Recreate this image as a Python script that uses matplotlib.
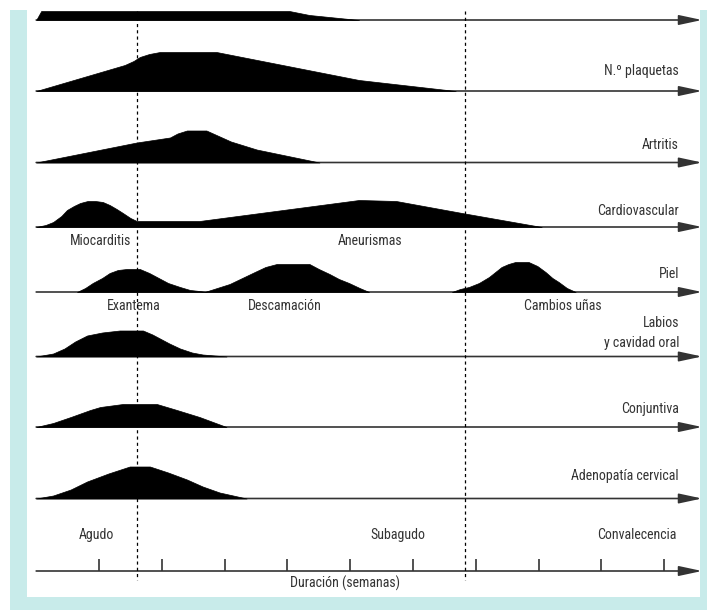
import matplotlib
matplotlib.use("Agg")
import matplotlib.pyplot as plt
from matplotlib.patches import Rectangle
from matplotlib import font_manager

# --- datos (x en semanas, altura en unidades del dibujo) ---
top_w = [0.0, 0.08, 4.03, 4.35, 5.14]
top_h = [0, 9, 9, 5, 0]

plaq_w = [0.0, 1.41, 1.55, 1.65, 1.80, 1.97, 2.87, 5.14, 6.68]
plaq_h = [0, 26, 30, 34, 37, 39, 39, 11, 0]

artr_w = [0.0, 1.60, 2.13, 2.25, 2.40, 2.71, 3.10, 3.51, 4.51]
artr_h = [0, 20, 25, 29, 32, 32, 21, 13, 0]

cardio_w = [0.0, 0.15, 0.27, 0.40, 0.49, 0.60, 0.70, 0.82, 0.94, 1.06, 1.17,
            1.28, 1.38, 1.50, 1.60, 2.60, 5.14, 5.73, 6.78, 8.05]
cardio_h = [0, 2, 5, 11, 17, 21, 24, 26, 26, 25, 22, 18, 14, 9, 6, 6, 27, 26, 14, 0]

exan_w = [0.65, 0.78, 0.90, 1.05, 1.17, 1.30, 1.44, 1.65, 1.80, 1.92, 2.10, 2.29, 2.45, 2.60, 2.71]
exan_h = [0, 4, 9, 14, 19, 22, 23, 23, 19, 15, 9, 5, 2, 1, 0]

desc_w = [2.68, 2.88, 3.08, 3.28, 3.48, 3.65, 3.83, 4.35, 4.50, 4.67, 4.82, 4.98, 5.15, 5.30]
desc_h = [0, 4, 8, 14, 20, 25, 28, 28, 23, 18, 13, 9, 4, 0]

unas_w = [6.62, 6.75, 6.89, 7.05, 7.21, 7.31, 7.41, 7.52, 7.63, 7.84, 7.98, 8.11, 8.22, 8.32, 8.45, 8.59]
unas_h = [0, 3, 5, 9, 15, 20, 25, 28, 30, 30, 26, 20, 14, 10, 4, 0]

lab_w = [0.0, 0.27, 0.45, 0.62, 0.81, 1.05, 1.33, 1.70, 1.85, 1.97, 2.12, 2.29, 2.48, 2.65, 3.03]
lab_h = [0, 3, 8, 15, 21, 24, 26, 26, 22, 18, 13, 8, 4, 2, 0]

conj_w = [0.0, 0.27, 0.55, 0.86, 1.02, 1.38, 1.92, 2.24, 2.60, 3.03]
conj_h = [0, 4, 10, 17, 20, 23, 23, 17, 10, 0]

aden_w = [0.0, 0.27, 0.55, 0.81, 1.15, 1.49, 1.81, 2.10, 2.40, 2.65, 2.92, 3.35]
aden_h = [0, 3, 9, 17, 25, 32, 32, 26, 19, 12, 6, 0]

row_labels = ["", "N.º plaquetas", "Artritis", "Cardiovascular", "Piel",
              "Labios\ny cavidad oral", "Conjuntiva", "Adenopatía cervical"]
semanas = [1, 2, 3, 4, 5, 6, 7, 8, 9, 10]
fases = ["Agudo", "Subagudo", "Convalecencia"]
limites_fase = [1.6, 6.83]


def fuente_estrecha():
    fl = font_manager.fontManager.ttflist
    pref = ['Liberation Sans Narrow', 'Roboto Condensed', 'Open Sans Condensed',
            'Noto Sans Condensed', 'DejaVu Sans Condensed']
    normal = [f for f in fl if f.style == 'normal' and f.weight in (400, 'normal', 'regular', 'book')]
    for p in pref:
        for f in normal:
            if f.name == p:
                return font_manager.FontProperties(fname=f.fname), 10
    for f in normal:
        if 'condensed' in str(f.stretch) or 'Condensed' in f.fname or 'Narrow' in f.fname:
            return font_manager.FontProperties(fname=f.fname), 10
    return font_manager.FontProperties(family='Liberation Sans'), 9


fp, fs = fuente_estrecha()
fp.set_size(fs)

# --- layout en pixeles ---
W, H = 707, 610
x0, sc = 36.2, 62.8


def px(x):
    return (x - x0) / sc


fig = plt.figure(figsize=(W / 100, H / 100), dpi=100)
ax = fig.add_axes([0, 0, 1, 1])
ax.set_xlim(px(0), px(W))
ax.set_ylim(H, 0)
ax.axis('off')

cyan = '#c8ebea'
ax.add_patch(Rectangle((10 / W, 0), 1 - 10 / W, 600 / H, transform=ax.transAxes,
                       color=cyan, lw=0, zorder=0))
ax.add_patch(Rectangle((27 / W, 13 / H), (700 - 27) / W, (600 - 13) / H,
                       transform=ax.transAxes, color='white', lw=0, zorder=0.5))

bases = [20, 91, 162.5, 227, 292, 356.5, 427, 498.5]
perfiles = [[(top_w, top_h)], [(plaq_w, plaq_h)], [(artr_w, artr_h)],
            [(cardio_w, cardio_h)],
            [(exan_w, exan_h), (desc_w, desc_h), (unas_w, unas_h)],
            [(lab_w, lab_h)], [(conj_w, conj_h)], [(aden_w, aden_h)]]

gris = '#333333'
tip = px(702)
flecha = dict(arrowstyle='-|>,head_length=1.4,head_width=0.3',
              mutation_scale=10, lw=1.2, color=gris, shrinkA=0, shrinkB=0)
for base, prof in zip(bases, perfiles):
    ax.annotate('', xy=(tip, base), xytext=(0, base), arrowprops=flecha, zorder=2)
    for w, h in prof:
        ax.fill_between(w, [base] * len(w), [base - v for v in h],
                        color='black', lw=0.5, zorder=3)

# etiquetas de filas
lab_y = [None, 71, 145, 211, 274, 333, 409, 476]
for lbl, y in zip(row_labels, lab_y):
    if lbl:
        ax.text(px(679), y, lbl, ha='right', va='center', fontproperties=fp,
                color=gris, linespacing=1.5)

# sub etiquetas
sub = [("Miocarditis", 101, 241), ("Aneurismas", 370, 241),
       ("Exantema", 134, 306), ("Descamación", 285, 306),
       ("Cambios uñas", 563, 306)]
for t, x, y in sub:
    ax.text(px(x), y, t, ha='center', va='center', fontproperties=fp, color=gris)

# eje inferior
ax.annotate('', xy=(tip, 571), xytext=(0, 571), arrowprops=flecha, zorder=2)
ax.vlines(semanas, 559, 571, color=gris, lw=1.2, zorder=2)
for t, x in zip(fases, [96, 398, 637]):
    ax.text(px(x), 535, t, ha='center', va='center', fontproperties=fp, color=gris)
ax.text(px(345), 583, "Duración (semanas)", ha='center', va='center',
        fontproperties=fp, color=gris)

# lineas de fase
ax.vlines(limites_fase, 11, 580, color='black', lw=0.9,
          linestyles=(0, (2.5, 2.5)), zorder=4)

fig.savefig('out.png', dpi=100)
